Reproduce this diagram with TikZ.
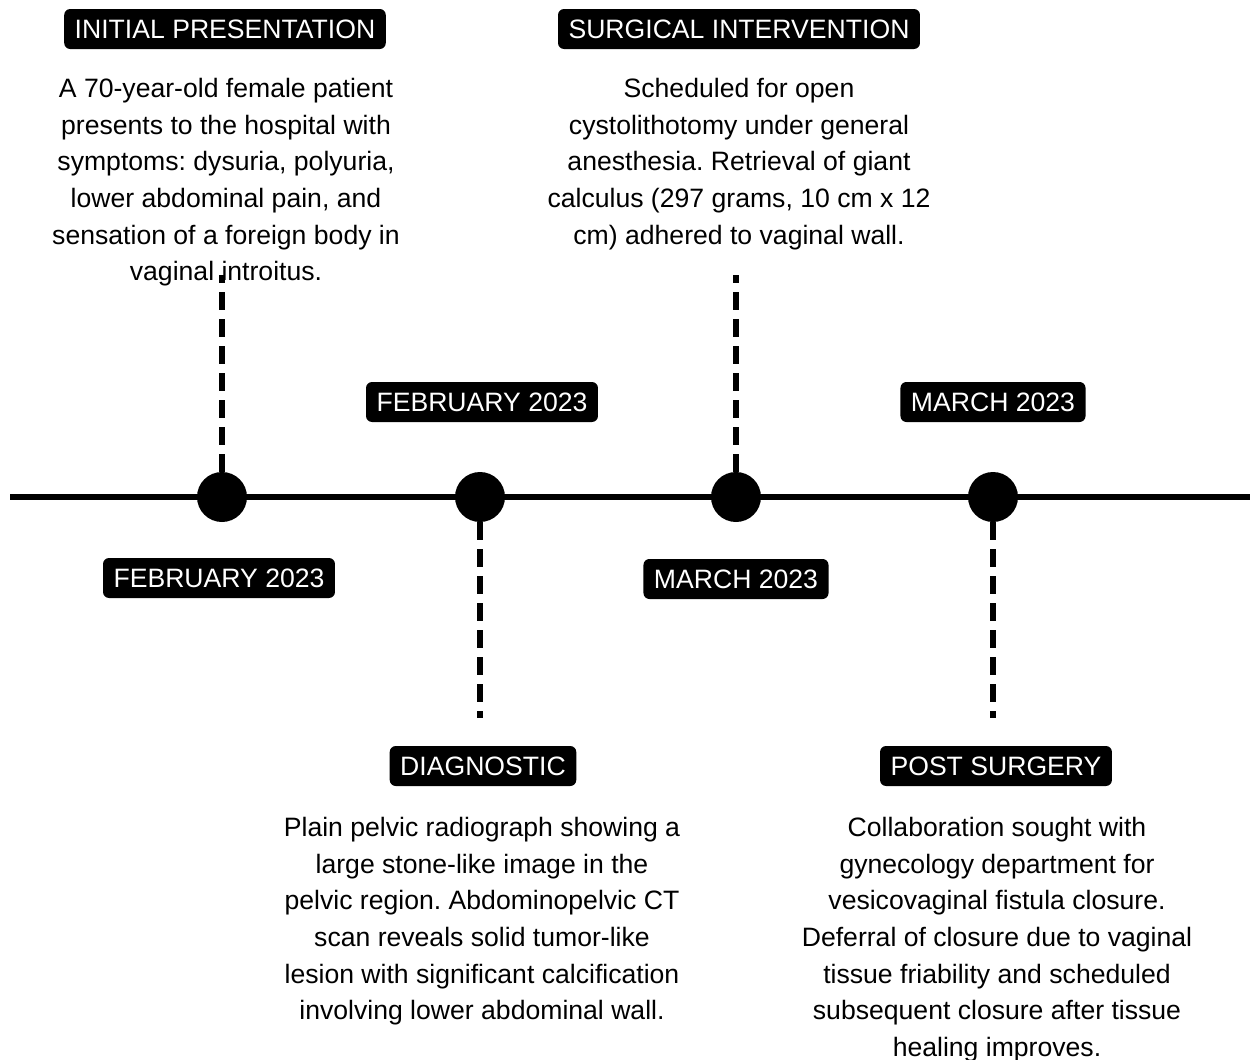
\documentclass[tikz,border=0pt]{standalone}
\usepackage{fontspec}
\setmainfont{Liberation Sans}

\begin{document}
\begin{tikzpicture}[x=0.5pt,y=-0.5pt]
                \tikzset{VertexStyle/.style={circle, fill=black, minimum size=25pt, inner sep=0pt}}
                \tikzset{LabelStyle/.style={fill=black, text=white, rounded corners=3pt, inner xsep=5.25pt, inner ysep=0pt, minimum height=20pt, font=\fontsize{13.3}{16}\selectfont}}
                \tikzset{TextStyle/.style={anchor=north, align=center, inner sep=0pt, font=\fontsize{13.3}{18.3}\selectfont\frenchspacing}}
                \tikzset{EdgeStyle/.style={line width=3.25pt, dash pattern=on 9pt off 4.5pt}}
                \useasboundingbox (0,0) rectangle (1250,1060);
                \coordinate (L) at (10,497);
                \coordinate (R) at (1250,497);
                \draw[line width=3pt] (L) -- (R);
                \node[VertexStyle] (V1) at (222,497) {};
                \node[VertexStyle] (V2) at (480,497) {};
                \node[VertexStyle] (V3) at (736,497) {};
                \node[VertexStyle] (V4) at (993,497) {};
                \coordinate (E1) at (222,275);
                \coordinate (E2) at (480,718);
                \coordinate (E3) at (736,275);
                \coordinate (E4) at (993,718);
                \draw[EdgeStyle] (V1) -- (E1);
                \draw[EdgeStyle] (V2) -- (E2);
                \draw[EdgeStyle] (V3) -- (E3);
                \draw[EdgeStyle] (V4) -- (E4);
                \node[LabelStyle] (T1) at (225,29) {INITIAL PRESENTATION};
                \node[LabelStyle] (T2) at (483,766) {DIAGNOSTIC};
                \node[LabelStyle] (T3) at (739,29) {SURGICAL INTERVENTION};
                \node[LabelStyle] (T4) at (996,766) {POST SURGERY};
                \node[LabelStyle] (D1) at (219,578) {FEBRUARY 2023};
                \node[LabelStyle] (D2) at (482,402) {FEBRUARY 2023};
                \node[LabelStyle] (D3) at (736,579) {MARCH 2023};
                \node[LabelStyle] (D4) at (993,402) {MARCH 2023};
                \node[TextStyle] (B1) at (226,78) {A 70-year-old female patient\\presents to the hospital with\\symptoms: dysuria, polyuria,\\lower abdominal pain, and\\sensation of a foreign body in\\vaginal introitus.};
                \node[TextStyle] (B2) at (482,817) {Plain pelvic radiograph showing a\\large stone-like image in the\\pelvic region. Abdominopelvic CT\\scan reveals solid tumor-like\\lesion with significant calcification\\involving lower abdominal wall.};
                \node[TextStyle] (B3) at (739,78) {Scheduled for open\\cystolithotomy under general\\anesthesia. Retrieval of giant\\calculus (297 grams, 10 cm x 12\\cm) adhered to vaginal wall.};
                \node[TextStyle] (B4) at (997,817) {Collaboration sought with\\gynecology department for\\vesicovaginal fistula closure.\\Deferral of closure due to vaginal\\tissue friability and scheduled\\subsequent closure after tissue\\healing improves.};
            \end{tikzpicture}
\end{document}
